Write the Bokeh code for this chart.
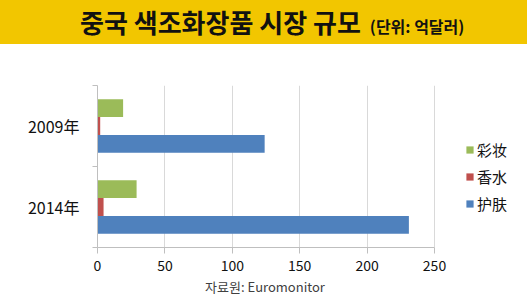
from bokeh.plotting import figure
from bokeh.models import ColumnDataSource, Range1d, FixedTicker, Legend, LegendItem, Div
from bokeh.layouts import column
from bokeh.embed import file_html
from bokeh.resources import INLINE

years = ["2009年", "2014年"]
series = ["彩妆", "香水", "护肤"]
makeup = [19, 29]
perfume = [2, 4.5]
skincare = [124, 231]
colors = ["#9BBB59", "#C0504D", "#4F81BD"]
title_main = "중국 색조화장품 시장 규모"
title_unit = "(단위: 억달러)"
source_note = "자료원: Euromonitor"
x_ticks = [0, 50, 100, 150, 200, 250]

FONT = "Noto Sans CJK KR"

# ---- title band ----
title_html = (
    f'<div style="width:527px;height:44px;background:#F2C600;box-sizing:border-box;'
    f'padding-left:80px;white-space:nowrap;font-family:\'{FONT}\';color:#111;line-height:44px;">'
    f'<span style="font-size:26px;font-weight:bold;">{title_main}</span>'
    f'<span style="font-size:16px;font-weight:bold;margin-left:9px;">{title_unit}</span>'
    f'</div>'
)
title_div = Div(text=title_html, width=527, height=44, margin=0)

# ---- chart ----
n = len(years)
ypos = [n - 1 - i + 0.5 for i in range(n)]
bh = 0.22
offsets = [bh, 0.0, -bh]

x_max = x_ticks[-1]
x_view_end = x_max * 430 / 337  # frame runs to the right edge; axis line stops at 250

p = figure(width=527, height=233, x_range=Range1d(0, x_view_end), y_range=Range1d(0, n),
           toolbar_location=None, output_backend="svg", margin=0,
           min_border_left=97, min_border_right=0, min_border_top=41, min_border_bottom=30)
p.outline_line_color = None
p.background_fill_color = "white"
p.border_fill_color = "white"

renderers = []
for vals, off, col in zip([makeup, perfume, skincare], offsets, colors):
    src = ColumnDataSource(dict(y=[v + off for v in ypos], right=vals))
    r = p.hbar(y="y", left=0, right="right", height=bh, source=src,
               fill_color=col, line_color=None)
    renderers.append(r)

# x axis
p.xaxis.ticker = FixedTicker(ticks=x_ticks)
p.xaxis.bounds = (0, x_max)
p.xaxis.axis_line_color = "#BFBFBF"
p.xaxis.major_tick_line_color = "#BFBFBF"
p.xaxis.major_tick_out = 6
p.xaxis.major_tick_in = 0
p.xaxis.minor_tick_line_color = None
p.xaxis.major_label_text_font = FONT
p.xaxis.major_label_text_font_size = "14px"
p.xaxis.major_label_text_color = "#111111"
p.xaxis.major_label_standoff = 6

# y axis
p.yaxis.ticker = FixedTicker(ticks=ypos, minor_ticks=list(range(n + 1)))
p.yaxis.major_label_overrides = {v: years[i] for i, v in enumerate(ypos)}
p.yaxis.axis_line_color = "#BFBFBF"
p.yaxis.major_tick_line_color = None
p.yaxis.minor_tick_line_color = "#BFBFBF"
p.yaxis.minor_tick_out = 5
p.yaxis.minor_tick_in = 0
p.yaxis.major_label_text_font = FONT
p.yaxis.major_label_text_font_size = "16px"
p.yaxis.major_label_text_color = "#111111"
p.yaxis.major_label_standoff = 12

p.ygrid.grid_line_color = None
p.xgrid.grid_line_color = "#D9D9D9"
p.xgrid.ticker = FixedTicker(ticks=x_ticks[1:])

legend = Legend(items=[LegendItem(label=s, renderers=[r]) for s, r in zip(series, renderers)],
                location=(368, 33), orientation="vertical",
                label_text_font=FONT, label_text_font_size="15px", label_text_color="#111111",
                glyph_width=9, glyph_height=9, label_standoff=3, spacing=6, label_height=20,
                padding=0, margin=0, border_line_color=None, background_fill_alpha=0)
p.add_layout(legend, "center")

# ---- source note ----
source_html = (
    f'<div style="width:530px;height:28px;text-align:center;white-space:nowrap;'
    f'font-family:\'{FONT}\';font-size:13px;color:#404040;line-height:20px;">{source_note}</div>'
)
source_div = Div(text=source_html, width=527, height=28, margin=0)

layout = column(title_div, p, source_div, spacing=0, margin=0)
open("out.html", "w").write(file_html(layout, INLINE))
